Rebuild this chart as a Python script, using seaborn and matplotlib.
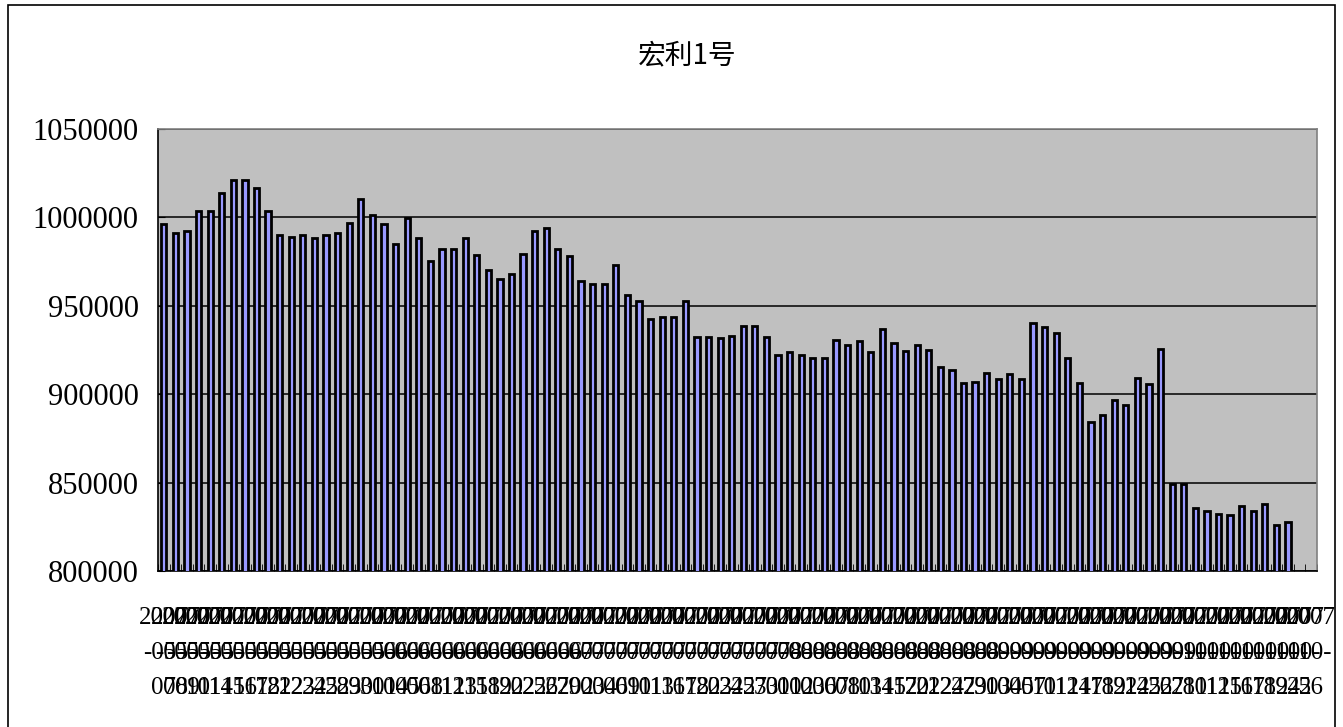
import matplotlib
matplotlib.use('Agg')
import matplotlib.pyplot as plt
from matplotlib.patches import Rectangle
import seaborn as sns
import numpy as np

# net value per trading day, last two slots empty
values = [996200, 991300, 992100, 1003400, 1003400, 1013600, 1021300, 1021300, 1016400, 1003400,
          990200, 988900, 990200, 988100, 990200, 991100, 997000, 1010600, 1001300, 996200,
          985100, 999600, 988100, 975300, 982400, 981900, 988100, 978700, 970000, 965100,
          967900, 979400, 992500, 994200, 982400, 978100, 964300, 962100, 962100, 973000,
          956200, 952600, 942600, 943900, 943900, 952600, 932400, 932400, 931700, 933200,
          938300, 938300, 932400, 922300, 923700, 922300, 920400, 920700, 930900, 928100,
          930200, 923700, 936700, 928800, 924500, 928100, 925200, 915600, 913500, 906200,
          907100, 912200, 908400, 911300, 908400, 940400, 938100, 934700, 920200, 906200,
          884500, 888300, 896900, 893900, 909200, 905600, 925800, 849000, 849000, 835800,
          833900, 832200, 831400, 836800, 833900, 838100, 826300, 827800, np.nan, np.nan]

may = ['07', '08', '09', '10', '11', '14', '15', '16', '17', '18', '21', '22', '23', '24', '25',
       '28', '29', '30', '31']
jun = ['01', '04', '05', '06', '08', '11', '12', '13', '15', '18', '19', '20', '22', '25', '26',
       '27', '29']
jul = ['02', '03', '04', '06', '09', '10', '11', '13', '16', '17', '18', '20', '23', '24', '25',
       '27', '30', '31']
aug = ['01', '02', '03', '06', '07', '08', '10', '13', '14', '15', '17', '20', '21', '22', '24',
       '27', '29', '31']
sep = ['03', '04', '05', '07', '10', '11', '12', '14', '17', '18', '19', '21', '24', '25', '26',
       '27', '28']
oct_ = ['10', '11', '12', '15', '16', '17', '18', '19', '24', '25', '26']

dates = []
for m, days in [('05', may), ('06', jun), ('07', jul), ('08', aug), ('09', sep), ('10', oct_)]:
    for d in days:
        dates.append('2007\n-' + m + '-\n' + d)

yticks = [800000, 850000, 900000, 950000, 1000000, 1050000]

W, H = 1343, 727
fig = plt.figure(figsize=(W / 100, H / 100), dpi=100)
fig.patch.set_facecolor('white')
ax = fig.add_axes([158 / W, 1 - 571 / H, (1317 - 158) / W, (571 - 129) / H])

sns.barplot(x=dates, y=values, order=dates, ax=ax, color='#9999FF', saturation=1,
            edgecolor='black', linewidth=2, width=0.45, errorbar=None, zorder=3)

ax.set_facecolor('#C0C0C0')
ax.set_ylim(800000, 1050000)
ax.set_xlim(-0.5, len(dates) - 0.5)
ax.set_yticks(yticks)
ax.set_yticklabels([str(v) for v in yticks], fontsize=22, family='Liberation Serif')
ax.yaxis.grid(True, color='black', linewidth=1.1, zorder=1)
ax.set_axisbelow(True)
ax.set_xlabel('')
ax.set_ylabel('')

ax.set_xticks(range(len(dates)))
ax.set_xticklabels(dates, fontsize=18, family='Liberation Serif', linespacing=1.75, rotation=0)
ax.set_xticks(np.arange(-0.5, len(dates)), minor=True)
ax.tick_params(axis='x', which='major', length=0, pad=26)
ax.tick_params(axis='x', which='minor', length=5, direction='in', color='black')
ax.tick_params(axis='y', which='major', length=5, direction='in', pad=14, color='black')

for side in ['top', 'right']:
    ax.spines[side].set_color('#808080')
    ax.spines[side].set_linewidth(1.2)
for side in ['left', 'bottom']:
    ax.spines[side].set_color('black')
    ax.spines[side].set_linewidth(1.2)

fig.text(687 / W, 1 - 55 / H, '宏利1号', ha='center', va='center', fontsize=20,
         family=['Noto Sans CJK SC', 'DejaVu Sans'])

fig.patches.append(Rectangle((8 / W, -0.01), (1335 - 8) / W, 1 - 5 / H + 0.01,
                             transform=fig.transFigure, fill=False, edgecolor='black',
                             linewidth=1.2))

fig.savefig('out.png', dpi=100)
